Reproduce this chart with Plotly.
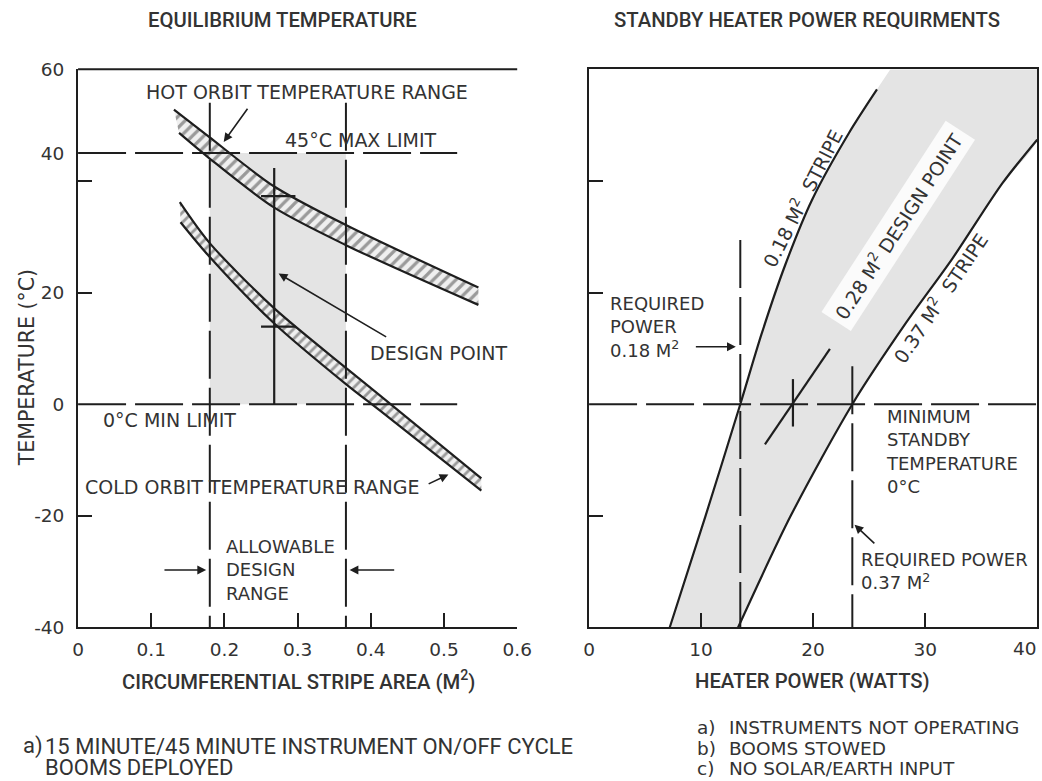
import plotly.graph_objects as go

# ---------------- data: equilibrium temperature vs stripe area ----------------
HOT_UPPER_AREA = [0.131, 0.179, 0.267, 0.366, 0.547]
HOT_UPPER_TEMP = [52.8, 47.9, 39.1, 32.1, 20.9]
HOT_LOWER_AREA = [0.138, 0.179, 0.267, 0.366, 0.547]
HOT_LOWER_TEMP = [48.6, 44.1, 35.3, 28.5, 17.8]

COLD_UPPER_AREA = [0.139, 0.179, 0.267, 0.366, 0.414, 0.551]
COLD_UPPER_TEMP = [36.2, 29.0, 17.3, 6.5, 1.4, -13.3]
COLD_LOWER_AREA = [0.140, 0.179, 0.267, 0.366, 0.414, 0.551]
COLD_LOWER_TEMP = [32.6, 26.5, 14.6, 3.6, -1.3, -15.5]

MAX_LIMIT = 45          # deg C
MIN_LIMIT = 0           # deg C
ALLOWABLE_AREA = [0.180, 0.366]
DESIGN_AREA = 0.268
DESIGN_TOP = 42.3
DESIGN_HOT = 37.3
DESIGN_COLD = 13.9
DESIGN_BAR = [0.250, 0.297]
LIMIT_LINE_AREA = [0.0, 0.518]
RANGE_LINE_TEMP = [54.0, -40.0]

# ---------------- data: standby heater power ----------------
STRIPE_018_POWER = [7.2, 10.4, 13.5, 15.4, 17.5, 19.9, 23.2, 25.7]
STRIPE_018_TEMP = [-40.0, -20.0, 0.0, 12.6, 24.9, 36.6, 48.6, 56.4]
STRIPE_018_EDGE = [26.9, 60.0]          # shading continues to the frame top
STRIPE_037_POWER = [13.3, 18.0, 23.5, 28.3, 32.4, 36.9, 40.0]
STRIPE_037_TEMP = [-40.0, -20.0, 0.0, 14.6, 26.0, 39.6, 47.4]
FRAME_CORNER = [40.0, 60.0]

REQ_POWER_018 = 13.5
REQ_POWER_037 = 23.5
REQ_018_TEMP = [29.4, -40.0]
REQ_037_TEMP = [6.8, -40.0]
DESIGN_LINE_POWER = [15.7, 21.5]
DESIGN_LINE_TEMP = [-7.2, 9.9]
DESIGN_POWER = 18.2
DESIGN_CROSS_TEMP = [-4.0, 4.5]

# ---------------- axes ----------------
AREA_TICKS = [0, 0.1, 0.2, 0.3, 0.4, 0.5, 0.6]
AREA_TICK_TEXT = ["0", "0.1", "0.2", "0.3", "0.4", "0.5", "0.6"]
POWER_TICKS = [0, 10, 20, 30, 40]
POWER_TICK_TEXT = ["0", "10", "20", "30", ""]   # the last one is set against the page edge
POWER_LAST_TEXT = "40"
TEMP_LABEL_POS = [-40, -20, 0, 20, 45, 60]
TEMP_LABEL_TEXT = ["-40", "-20", "0", "20", "40", "60"]
TEMP_MARKS = [-20, 20, 40]

INK = "#1e1e1e"
TEXT = "#333333"
SHADE = "#e4e4e4"
LABEL_FONT = "DejaVu Sans"
TITLE_FONT = "Roboto"
DASH = "48px,9px"

fig = go.Figure()


def curve(x, y, xa="x", ya="y", width=2.2, dash=None, shape="spline", color=INK):
    fig.add_trace(go.Scatter(
        x=x, y=y, xaxis=xa, yaxis=ya, mode="lines",
        line=dict(color=color, width=width, dash=dash, shape=shape, smoothing=0.8),
        hoverinfo="skip", showlegend=False))


def hatched_band(xl, yl, xu, yu, size):
    fig.add_trace(go.Scatter(
        x=xl, y=yl, mode="lines", line=dict(width=0, shape="spline", smoothing=0.8),
        hoverinfo="skip", showlegend=False))
    fig.add_trace(go.Scatter(
        x=xu, y=yu, mode="lines", line=dict(width=0, shape="spline", smoothing=0.8),
        fill="tonexty", fillcolor="#f0f0f0",
        fillpattern=dict(shape="/", size=size, solidity=0.4,
                         fgcolor="#444444", bgcolor="#f0f0f0"),
        hoverinfo="skip", showlegend=False))


# ---- left panel ----
# allowable design window
fig.add_trace(go.Scatter(
    x=[ALLOWABLE_AREA[0], ALLOWABLE_AREA[1], ALLOWABLE_AREA[1], ALLOWABLE_AREA[0]],
    y=[MIN_LIMIT, MIN_LIMIT, MAX_LIMIT, MAX_LIMIT],
    mode="lines", line=dict(width=0), fill="toself", fillcolor=SHADE,
    hoverinfo="skip", showlegend=False))

hatched_band(HOT_LOWER_AREA, HOT_LOWER_TEMP, HOT_UPPER_AREA, HOT_UPPER_TEMP, 8)
hatched_band(COLD_LOWER_AREA, COLD_LOWER_TEMP, COLD_UPPER_AREA, COLD_UPPER_TEMP, 7)

# limit lines
curve(LIMIT_LINE_AREA, [MAX_LIMIT, MAX_LIMIT], width=2, dash=DASH, shape="linear")
curve(LIMIT_LINE_AREA, [MIN_LIMIT, MIN_LIMIT], width=2, dash=DASH, shape="linear")
for a in ALLOWABLE_AREA:
    curve([a, a], RANGE_LINE_TEMP, width=2, dash=DASH, shape="linear")

for xs, ys in [(HOT_UPPER_AREA, HOT_UPPER_TEMP), (HOT_LOWER_AREA, HOT_LOWER_TEMP),
               (COLD_UPPER_AREA, COLD_UPPER_TEMP), (COLD_LOWER_AREA, COLD_LOWER_TEMP)]:
    curve(xs, ys)

# design point
curve([DESIGN_AREA, DESIGN_AREA], [DESIGN_TOP, MIN_LIMIT], width=2.2, shape="linear")
curve(DESIGN_BAR, [DESIGN_HOT, DESIGN_HOT], width=2.2, shape="linear")
curve(DESIGN_BAR, [DESIGN_COLD, DESIGN_COLD], width=2.2, shape="linear")

# ---- right panel ----
fig.add_trace(go.Scatter(
    x=STRIPE_037_POWER + [FRAME_CORNER[0]], y=STRIPE_037_TEMP + [FRAME_CORNER[1]],
    xaxis="x2", yaxis="y2", mode="lines", line=dict(width=0, shape="spline", smoothing=0.8),
    hoverinfo="skip", showlegend=False))
fig.add_trace(go.Scatter(
    x=STRIPE_018_POWER + [STRIPE_018_EDGE[0]], y=STRIPE_018_TEMP + [STRIPE_018_EDGE[1]],
    xaxis="x2", yaxis="y2", mode="lines", line=dict(width=0, shape="spline", smoothing=0.8),
    fill="tonexty", fillcolor=SHADE, hoverinfo="skip", showlegend=False))

curve([0, 40], [MIN_LIMIT, MIN_LIMIT], "x2", "y2", width=2, dash=DASH, shape="linear")
curve([REQ_POWER_018, REQ_POWER_018], REQ_018_TEMP, "x2", "y2", width=2, dash=DASH, shape="linear")
curve([REQ_POWER_037, REQ_POWER_037], REQ_037_TEMP, "x2", "y2", width=2, dash=DASH, shape="linear")
curve(STRIPE_018_POWER, STRIPE_018_TEMP, "x2", "y2")
curve(STRIPE_037_POWER, STRIPE_037_TEMP, "x2", "y2")
curve(DESIGN_LINE_POWER, DESIGN_LINE_TEMP, "x2", "y2", shape="linear")
curve([DESIGN_POWER, DESIGN_POWER], DESIGN_CROSS_TEMP, "x2", "y2", shape="linear")

# placeholders so the tick-only overlay axes get drawn
fig.add_trace(go.Scatter(x=[None], y=[None], xaxis="x3", yaxis="y3", showlegend=False))
fig.add_trace(go.Scatter(x=[None], y=[None], xaxis="x4", yaxis="y2", showlegend=False))

# ---------------- layout ----------------
# page placement of the figure: scale and offset of the drawn page
W, H = 1054, 792
SX, CX = 0.982, 4.8
SY, CY = 0.968, 12.0


def px(x):
    return min(1.0, max(0.0, (x - CX) / SX / W))


def py(y):
    return min(1.0, max(0.0, 1 - (y - CY) / SY / H))


XL = [px(77), px(517)]
XR = [px(589), px(1038)]
YD = [py(625), py(70)]

tickfont = dict(family=LABEL_FONT, size=18.5, color=TEXT)
base = dict(showgrid=False, zeroline=False, linecolor=INK, linewidth=2, tickfont=tickfont)
mark = dict(showgrid=False, zeroline=False, showline=False, showticklabels=False,
            ticks="inside", ticklen=14, tickwidth=2, tickcolor=INK)

fig.update_layout(
    width=W, height=H, margin=dict(l=0, r=0, t=0, b=0),
    paper_bgcolor="white", plot_bgcolor="rgba(0,0,0,0)",
    xaxis=dict(base, domain=XL, range=[0, 0.6], anchor="y", showline=True,
               tickmode="array", tickvals=AREA_TICKS, ticktext=AREA_TICK_TEXT, ticks="",
               ticklabelstandoff=4),
    yaxis=dict(base, domain=YD, range=[-40, 60], anchor="x", showline=True,
               tickmode="array", tickvals=TEMP_LABEL_POS, ticktext=TEMP_LABEL_TEXT, ticks="",
               ticklabelstandoff=8),
    xaxis3=dict(mark, overlaying="x", anchor="y", range=[0, 0.6], tickmode="array",
                tickvals=AREA_TICKS[1:-1]),
    yaxis3=dict(mark, overlaying="y", anchor="x", range=[-40, 60], tickmode="array",
                tickvals=TEMP_MARKS),
    xaxis2=dict(base, domain=XR, range=[0, 40], anchor="y2", showline=True, mirror=True,
                tickmode="array", tickvals=POWER_TICKS, ticktext=POWER_TICK_TEXT, ticks="",
                ticklabelstandoff=4),
    yaxis2=dict(base, domain=YD, range=[-40, 60], anchor="x2", showline=True, mirror=True,
                tickmode="array", tickvals=TEMP_MARKS, ticks="inside", ticklen=14,
                tickwidth=2, tickcolor=INK, showticklabels=False),
    xaxis4=dict(mark, overlaying="x2", anchor="y2", range=[0, 40], tickmode="array",
                tickvals=POWER_TICKS[1:-1]),
)

# frame line along the top of the left panel
fig.add_shape(type="line", xref="x domain", yref="y domain", x0=0, x1=1, y0=1, y1=1,
              line=dict(color=INK, width=2))

lab = dict(family=LABEL_FONT, size=19, color=TEXT)
ttl = dict(family=TITLE_FONT, size=20.3, color=TEXT, weight=500)
foot = dict(family=LABEL_FONT, size=18.5, color=TEXT)
foot_left = dict(family=TITLE_FONT, size=22, color=TEXT)


def note(text, x, y, font, xanchor="left", **kw):
    fig.add_annotation(text=text, x=px(x), y=py(y), xref="paper", yref="paper",
                       showarrow=False, xanchor=xanchor, yanchor="middle", align="left",
                       font=font, **kw)


def label(text, x, y, xa="x", ya="y", **kw):
    opts = dict(xanchor="left", yanchor="middle", align="left", font=lab)
    opts.update(kw)
    fig.add_annotation(text=text, x=x, y=y, xref=xa, yref=ya, showarrow=False, **opts)


def arrow(x, y, ax, ay, xa="x", ya="y"):
    fig.add_annotation(text="", x=x, y=y, ax=ax, ay=ay, xref=xa, yref=ya,
                       axref=xa, ayref=ya, showarrow=True, arrowhead=2, arrowsize=1.1,
                       arrowwidth=1.6, arrowcolor=INK)


# last heater-power tick label, kept inside the page
note(POWER_LAST_TEXT, 1041, 646, tickfont, xanchor="right")

# titles and axis titles
note("EQUILIBRIUM TEMPERATURE", 282, 21, ttl, xanchor="center")
note("STANDBY HEATER POWER REQUIRMENTS", 807, 21, ttl, xanchor="center")
note("CIRCUMFERENTIAL STRIPE AREA (M<sup>2</sup>)", 298, 678, ttl, xanchor="center")
note("HEATER POWER (WATTS)", 813, 678, ttl, xanchor="center")
note("TEMPERATURE (°C)", 26, 367, dict(lab, size=20.5), xanchor="center", textangle=-90)

# footnotes
note("a)", 20, 743, foot_left)
note("15 MINUTE/45 MINUTE INSTRUMENT ON/OFF CYCLE", 42, 743, foot_left)
note("BOOMS DEPLOYED", 42, 764, foot_left)
for tag, line_text, y in [("a)", "INSTRUMENTS NOT OPERATING", 724),
                          ("b)", "BOOMS STOWED", 745),
                          ("c)", "NO SOLAR/EARTH INPUT", 765)]:
    note(tag, 695, y, foot)
    note(line_text, 727, y, foot)

# left panel labels
label("HOT ORBIT TEMPERATURE RANGE", 0.090, 56.0)
arrow(0.199, 47.0, 0.233, 53.2)
label("45°C MAX LIMIT", 0.280, 47.4)
label("DESIGN POINT", 0.396, 9.2)
arrow(0.274, 23.4, 0.423, 11.9)
label("0°C MIN LIMIT", 0.031, -2.9)
label("COLD ORBIT TEMPERATURE RANGE", 0.007, -14.8)
arrow(0.506, -12.6, 0.477, -14.4)
label("ALLOWABLE<br>DESIGN<br>RANGE", 0.199, -29.7, font=dict(lab, size=18))
arrow(0.175, -29.7, 0.116, -29.7)
arrow(0.371, -29.7, 0.434, -29.7)

# right panel labels
label("REQUIRED<br>POWER<br>0.18 M<sup>2</sup>", 1.7, 13.9, "x2", "y2", font=dict(lab, size=18))
arrow(13.1, 10.3, 9.4, 10.3, "x2", "y2")
label("MINIMUM<br>STANDBY<br>TEMPERATURE<br>0°C", 26.3, -8.5, "x2", "y2", font=dict(lab, size=18))
label("REQUIRED POWER<br>0.37 M<sup>2</sup>", 24.1, -29.9, "x2", "y2", font=dict(lab, size=18))
arrow(23.7, -21.6, 25.6, -25.2, "x2", "y2")
label("0.18 M<sup>2</sup>  STRIPE", 19.0, 37.0, "x2", "y2", xanchor="center", textangle=-63)
label("0.28 M<sup>2</sup> DESIGN POINT", 27.6, 31.9, "x2", "y2", xanchor="center",
      textangle=-57, bgcolor="#fbfbfb", borderpad=5)
label("0.37 M<sup>2</sup>  STRIPE", 31.3, 19.1, "x2", "y2", xanchor="center", textangle=-56)

fig.write_html("out.html")
